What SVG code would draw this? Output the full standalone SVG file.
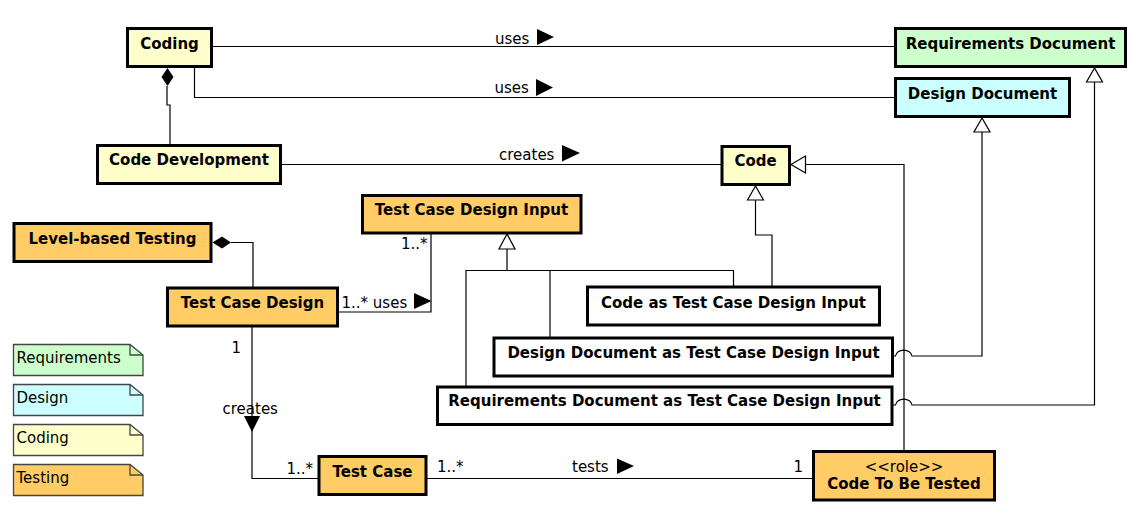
<svg xmlns="http://www.w3.org/2000/svg" width="1138" height="514" viewBox="0 0 1138 514">
<style>
.box{stroke:#000;stroke-width:3}
.req{fill:#ccffcc}.des{fill:#ccffff}.cod{fill:#ffffcc}.tst{fill:#ffcc66}.wht{fill:#fff}
.t{font-family:"DejaVu Sans",sans-serif;font-size:15px;font-weight:bold;fill:#000;text-anchor:middle}
.l{font-family:"DejaVu Sans",sans-serif;font-size:15px;fill:#000}
.c{fill:none;stroke:#000;stroke-width:1.2}
.gen{fill:#fff;stroke:#000;stroke-width:1.2}
.fill{fill:#000;stroke:none}
.note{stroke:#444;stroke-width:1.3}
.fold{fill:none;stroke:#444;stroke-width:1.3}
</style>
<rect width="1138" height="514" fill="#fff"/>
<g id="connectors">
  <path class="c" d="M213,46.5 H894"/>
  <path class="c" d="M194.5,68 V97.5 H894"/>
  <path class="c" d="M282,164.5 H721"/>
  <path class="c" d="M167,86 V105 H170 V145"/>
  <polygon class="fill" points="167.5,68 173.5,77 167.5,86 161.5,77"/>
  <path class="c" d="M231,242.5 H253 V288"/>
  <polygon class="fill" points="212.5,242.5 222,236.5 231,242.5 222,248.5"/>
  <path class="c" d="M339,312 H431 V234"/>
  <path class="c" d="M252,327 V478.5 H318"/>
  <polygon class="fill" points="244,416 260,416 252,432"/>
  <path class="c" d="M427,478.5 H812"/>
  <!-- generalizations to TCDI -->
  <path class="c" d="M507,249 V270.5 M466,386 V270.5 H733.5 V287 M550,270.5 V338"/>
  <polygon class="gen" points="507,234 499,249 515,249"/>
  <!-- Code as TCDI to Code -->
  <path class="c" d="M755.5,200 V235 H772 V287"/>
  <polygon class="gen" points="755.5,186 747.5,200 763.5,200"/>
  <!-- Code To Be Tested to Code -->
  <path class="c" d="M805.5,164.5 H904 V450"/>
  <polygon class="gen" points="791,164.5 805.5,156 805.5,173"/>
  <!-- DD as TCDI to Design Document -->
  <path class="c" d="M894,356 H895.5 A8.3,6.7 0 0 1 912,356 H982 V132"/>
  <polygon class="gen" points="982,118 974,132 990,132"/>
  <!-- RD as TCDI to Requirements Document -->
  <path class="c" d="M893,405 H895.5 A8.3,6.7 0 0 1 912,405 H1094.5 V82"/>
  <polygon class="gen" points="1094.5,68 1086.5,82 1102.5,82"/>
  <!-- labels -->
  <text class="l" x="495" y="43.5">uses</text>
  <polygon class="fill" points="537,29 537,45 554,37"/>
  <text class="l" x="494.5" y="93">uses</text>
  <polygon class="fill" points="536,79 536,96 553,87.5"/>
  <text class="l" x="499" y="160">creates</text>
  <polygon class="fill" points="562,145 562,161.5 580,153"/>
  <text class="l" x="401" y="249">1..*</text>
  <text class="l" x="341.5" y="307.5">1..* uses</text>
  <polygon class="fill" points="414,293 414,309 431.5,301"/>
  <text class="l" x="231.5" y="352.5">1</text>
  <text class="l" x="222.5" y="413.5">creates</text>
  <text class="l" x="286.5" y="473.5">1..*</text>
  <text class="l" x="437" y="472">1..*</text>
  <text class="l" x="572" y="472">tests</text>
  <polygon class="fill" points="617,458.5 617,474 634,466"/>
  <text class="l" x="793.5" y="472">1</text>
</g>
<g id="coding">
  <rect class="box cod" x="127.5" y="28.5" width="84" height="38"/>
  <text class="t" x="169.5" y="48.5">Coding</text>
</g>
<g id="requirements-document">
  <rect class="box req" x="895.5" y="28.5" width="230" height="38"/>
  <text class="t" x="1010.5" y="48.5">Requirements Document</text>
</g>
<g id="design-document">
  <rect class="box des" x="895.5" y="78.5" width="174" height="38"/>
  <text class="t" x="982.5" y="99">Design Document</text>
</g>
<g id="code-development">
  <rect class="box cod" x="97.5" y="145.5" width="183" height="38"/>
  <text class="t" x="189" y="165">Code Development</text>
</g>
<g id="code">
  <rect class="box cod" x="722" y="146.5" width="67.5" height="38"/>
  <text class="t" x="755.5" y="166">Code</text>
</g>
<g id="test-case-design-input">
  <rect class="box tst" x="362.5" y="195.5" width="218.5" height="37.5"/>
  <text class="t" x="471.5" y="215">Test Case Design Input</text>
</g>
<g id="level-based-testing">
  <rect class="box tst" x="14" y="223.5" width="197" height="38"/>
  <text class="t" x="112.5" y="243.5">Level-based Testing</text>
</g>
<g id="test-case-design">
  <rect class="box tst" x="167.5" y="288" width="170" height="38"/>
  <text class="t" x="252.5" y="308.3">Test Case Design</text>
</g>
<g id="code-as-tcdi">
  <rect class="box wht" x="587.5" y="287" width="292" height="38"/>
  <text class="t" x="733.5" y="307.5">Code as Test Case Design Input</text>
</g>
<g id="design-document-as-tcdi">
  <rect class="box wht" x="494" y="338" width="398.5" height="38"/>
  <text class="t" x="693.5" y="357.5">Design Document as Test Case Design Input</text>
</g>
<g id="requirements-document-as-tcdi">
  <rect class="box wht" x="437.5" y="387" width="454.5" height="37.5"/>
  <text class="t" x="664.5" y="406">Requirements Document as Test Case Design Input</text>
</g>
<g id="test-case">
  <rect class="box tst" x="319" y="456.5" width="107" height="38"/>
  <text class="t" x="372.5" y="476.7">Test Case</text>
</g>
<g id="code-to-be-tested">
  <rect class="box tst" x="813.5" y="451.5" width="181" height="48.5"/>
  <text class="l" x="904" y="472" text-anchor="middle">&lt;&lt;role&gt;&gt;</text>
  <text class="t" x="904" y="489">Code To Be Tested</text>
</g>
<g id="legend-requirements">
  <path class="note req" d="M13.5,344.5 H130 L143,355 V375.5 H13.5 Z"/>
  <path class="fold" d="M130,344.5 V355 H143"/>
  <text class="l" x="16.5" y="362.7">Requirements</text>
</g>
<g id="legend-design">
  <path class="note des" d="M13.5,384.5 H130 L143,395 V415.5 H13.5 Z"/>
  <path class="fold" d="M130,384.5 V395 H143"/>
  <text class="l" x="16.5" y="402.7">Design</text>
</g>
<g id="legend-coding">
  <path class="note cod" d="M13.5,424.5 H130 L143,435 V455.5 H13.5 Z"/>
  <path class="fold" d="M130,424.5 V435 H143"/>
  <text class="l" x="16.5" y="442.7">Coding</text>
</g>
<g id="legend-testing">
  <path class="note tst" d="M13.5,464.5 H130 L143,475 V495.5 H13.5 Z"/>
  <path class="fold" d="M130,464.5 V475 H143"/>
  <text class="l" x="16.5" y="482.7">Testing</text>
</g>
</svg>
